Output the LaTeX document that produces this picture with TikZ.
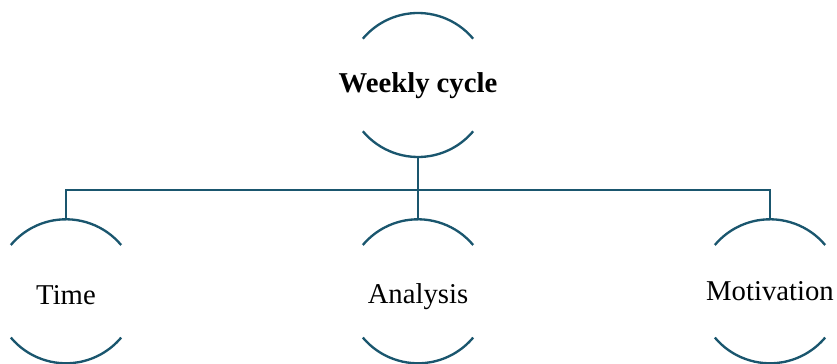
\documentclass[tikz,border=0pt]{standalone}
\usepackage{fontspec}
\setmainfont{Liberation Serif}
\definecolor{ringteal}{RGB}{26,86,110}
\tikzset{
    ring/.style={circle, minimum size=4.32cm, inner sep=0pt, outer sep=0pt},
    ringtext/.style={anchor=base, inner sep=0pt, font=\fontsize{24.5}{28}\selectfont},
    roottext/.style={ringtext, font=\fontsize{24.5}{28}\selectfont\bfseries},
    ringarc/.style={draw=ringteal, line width=2pt},
    branch/.style={draw=ringteal, line width=2pt}
}
\begin{document}
\begin{tikzpicture}[x=0.03cm, y=0.03cm]

\useasboundingbox (0,0) rectangle (837,364);

%% Kruhy (bez textu)
\node[ring] (cycle) at (418,279) {};
\node[ring] (time) at (66,72.7) {};
\node[ring] (analysis) at (418,72.7) {};
\node[ring] (motivation) at (770,72.7) {};

%% Texty
\node[roottext] (cycle-t) at ([yshift=-8*0.03cm]cycle.center) {Weekly cycle};
\node[ringtext] (time-t) at ([yshift=-13*0.03cm]time.center) {Time};
\node[ringtext] (analysis-t) at ([yshift=-12*0.03cm]analysis.center) {Analysis};
\node[ringtext] (motivation-t) at ([yshift=-9*0.03cm]motivation.center) {Motivation};

%% Oblúky nad a pod textom
\foreach \nm in {cycle,time,analysis,motivation} {
    \draw[ringarc] (\nm.40) arc[start angle=40, end angle=140, radius=72];
    \draw[ringarc] (\nm.220) arc[start angle=220, end angle=320, radius=72];
}

%% Spojnice
\draw[branch] (cycle.south) -- ++(0,-33) coordinate (bus);
\draw[branch] (bus) -| (time.north);
\draw[branch] (bus) -| (motivation.north);
\draw[branch] (bus) -- (analysis.north);

\end{tikzpicture}
\end{document}
